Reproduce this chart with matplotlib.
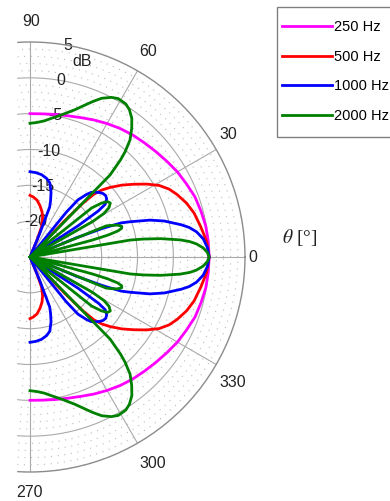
import numpy as np
import matplotlib
matplotlib.use('Agg')
import matplotlib.pyplot as plt
from matplotlib.patches import Rectangle
from matplotlib.ticker import MultipleLocator

plt.rcParams['font.family'] = ['Liberation Sans', 'DejaVu Sans']
plt.rcParams['mathtext.fontset'] = 'stix'

# directivity in dB, read for 0..90 deg (the lower half is the mirror image)
ang_250 = [0, 5, 10, 15, 20, 25, 30, 35, 40, 45, 50, 55, 60, 65, 70, 75, 80, 85, 90]
db_250 = [0, -0.03, -0.1, -0.3, -0.5, -0.9, -1.25, -1.7, -2.1, -2.45, -2.75, -3.1, -3.5, -3.9, -4.3, -4.6,
          -4.8, -4.95, -5.0]

ang_500 = [0, 5, 10, 15, 19, 23, 26, 29, 32, 35, 38, 41, 43, 44.5, 45.5, 46.3, 47,
           66.5, 67.5, 69, 72, 75, 79, 83, 87, 90]
db_500 = [0, -0.25, -0.8, -1.3, -1.9, -2.7, -3.4, -4.4, -5.8, -7.3, -8.7, -10.2, -11.3, -12.5, -14.5, -18, -25,
          -25, -22.5, -20.5, -19.3, -18.5, -17.7, -17.0, -16.6, -16.4]

ang_1000 = [0, 3, 6, 8.6, 10.5, 12, 15, 17.1, 19.4, 20.5, 21.5, 22.5, 23.5,
            32, 33, 34, 35, 37, 39, 41, 43, 45, 46.6, 48, 50, 51, 52,
            66.5, 67.5, 68.5, 70, 72, 75, 78, 82, 86, 90]
db_1000 = [0, -0.2, -0.7, -1.5, -2.4, -3.4, -5.6, -7.5, -10.2, -11.4, -14, -18, -25,
           -25, -17, -13.5, -12.2, -11.6, -11.4, -11.5, -11.8, -12.2, -12.6, -13.3, -14.6, -17, -25,
           -25, -21.4, -17.5, -16.6, -15.5, -14.3, -13.8, -13.4, -13.2, -13.1]

ang_2000 = [0, 1.5, 3, 4.5, 5.5, 6.5, 8, 9, 9.6, 10,
            14.5, 15.2, 15.7, 16.5, 17.4, 18.5, 20, 21.2, 22.2, 23,
            28.5, 29.5, 30.5, 32, 33.9, 35.5, 37, 38.5, 39.3,
            44.5, 45.7, 47, 47.9, 49.5, 51.7, 53.7, 56, 58, 60.9, 63, 65.7, 68, 70.1, 73, 76.3, 79, 81.1,
            84, 87, 90]
db_2000 = [0, -0.25, -0.8, -1.7, -2.6, -3.9, -6.6, -9.0, -10.8, -25,
           -25, -16, -13.7, -12.2, -11.6, -11.5, -12.0, -12.8, -13.5, -25,
           -25, -15, -13, -12, -11.5, -11.7, -12.5, -14, -25,
           -25, -9.0, -6.5, -5.2, -3.5, -2.1, -1.0, -0.2, 0.2, 0.3, 0.0, -0.7, -1.6, -2.45, -3.5, -4.4, -5.0, -5.4,
           -5.9, -6.2, -6.35]

labels = ['250 Hz', '500 Hz', '1000 Hz', '2000 Hz']
colors = ['#ff00ff', '#ff0000', '#0000ff', '#008000']

r_ticks = [5, 0, -5, -10, -15, -20]
theta_ticks = [0, 30, 60, 90, 270, 300, 330]


def mirror(a, d):
    a = np.array(a, float)
    d = np.array(d, float)
    th = np.concatenate([-a[::-1], a[1:]])
    rr = np.concatenate([d[::-1], d[1:]])
    return np.deg2rad(th), rr


W, H = 390, 501
cx, cy, R = 30, 257, 215
fig = plt.figure(figsize=(W / 100, H / 100), dpi=100)
ax = fig.add_axes([(cx - R) / W, (H - cy - R) / H, 2 * R / W, 2 * R / H], projection='polar')

ax.set_rlim(-25, 5)
ax.set_yticks(r_ticks[1:])
ax.set_yticklabels([])
ax.yaxis.set_minor_locator(MultipleLocator(1))
ax.set_xticks(np.deg2rad(theta_ticks))
ax.set_xticklabels([])
ax.tick_params(length=0)
ax.grid(True, which='major', color='#aaaaaa', lw=0.8, ls='-')
ax.grid(True, which='minor', axis='y', color='#bdbdbd', lw=0.8, ls=(0, (1, 5)))
ax.spines['polar'].set_color('#8c8c8c')
ax.spines['polar'].set_linewidth(1.0)

data = [(ang_250, db_250), (ang_500, db_500), (ang_1000, db_1000), (ang_2000, db_2000)]
for (a, d), c, lab in zip(data, colors, labels):
    th, rr = mirror(a, d)
    ax.plot(th, rr, color=c, lw=2.0, label=lab, zorder=3)

# radial labels along 80 deg
for v in r_ticks:
    ax.text(np.deg2rad(80), v, str(v), ha='center', va='center', fontsize=11.5, color='#222222', zorder=1.6)
ax.text(np.deg2rad(75), 3.2, 'dB', ha='center', va='center', fontsize=11.5, color='#222222', zorder=1.6)

# theta labels: (angle of label centre, radius in dB units)
theta_pos = {0: (0, 6.1), 30: (31.6, 7.5), 60: (60.1, 8.0), 90: (89.8, 7.8),
             270: (270, 7.9), 300: (300.8, 8.5), 330: (328.4, 8.3)}
for t in theta_ticks:
    a, r = theta_pos[t]
    ax.text(np.deg2rad(a), r, str(t), ha='center', va='center', fontsize=11.5,
            color='#222222', clip_on=False)

# crop the grid on the left side
fig.add_artist(Rectangle((0, 0), 16 / W, 1, transform=fig.transFigure, color='white', zorder=5))

fig.text(300 / W, 1 - 238 / H, r'$\theta$ [°]', ha='center', va='center', fontsize=14,
         family='Liberation Serif', color='#222222')

# legend box (runs off the right edge)
fig.add_artist(Rectangle((277 / W, 1 - 137 / H), 130 / W, 130 / H, transform=fig.transFigure,
                         facecolor='white', edgecolor='#808080', lw=1.0, zorder=4))
leg = fig.legend(loc='upper left', bbox_to_anchor=(282 / W, 1 - 20 / H), borderaxespad=0,
                 fontsize=10.5, handlelength=3.4, labelspacing=1.08, frameon=False,
                 borderpad=0, handletextpad=0.15)
leg.set_zorder(6)

fig.savefig('out.png', dpi=100)
